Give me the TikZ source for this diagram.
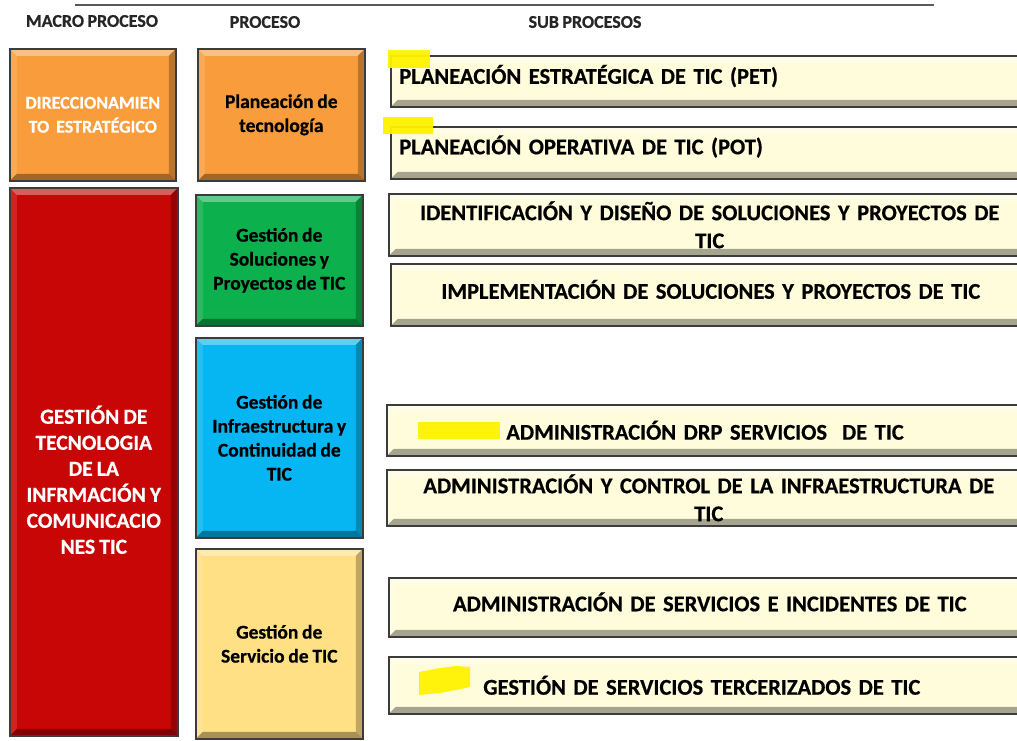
\documentclass[tikz,border=0pt]{standalone}
\usepackage{fontspec}
\setmainfont{Carlito}[WordSpace=0.85,BoldFeatures={FakeBold=0.6}]
\definecolor{orng}{HTML}{F99D3C}
\definecolor{redb}{HTML}{C80606}
\definecolor{grn}{HTML}{0CB04C}
\definecolor{blu}{HTML}{06B6F2}
\definecolor{ylw}{HTML}{FFE085}
\definecolor{crm}{HTML}{FFFCDC}
\definecolor{edge}{HTML}{3C3C3C}
\newcommand\bvw{7pt}
\tikzset{
  bev/.style={draw=edge, line width=1.6pt, inner sep=2pt,
    path picture={
      \coordinate (pNW) at (path picture bounding box.north west);
      \coordinate (pNE) at (path picture bounding box.north east);
      \coordinate (pSW) at (path picture bounding box.south west);
      \coordinate (pSE) at (path picture bounding box.south east);
      \fill[white,opacity=.35] (pNW) -- (pNE) -- ([shift={(-\bvw,-\bvw)}]pNE) -- ([shift={(\bvw,-\bvw)}]pNW) -- cycle;
      \fill[white,opacity=.12] (pNW) -- ([shift={(\bvw,-\bvw)}]pNW) -- ([shift={(\bvw,\bvw)}]pSW) -- (pSW) -- cycle;
      \fill[black,opacity=.25] (pNE) -- (pSE) -- ([shift={(-\bvw,\bvw)}]pSE) -- ([shift={(-\bvw,-\bvw)}]pNE) -- cycle;
      \fill[black,opacity=.35] (pSW) -- (pSE) -- ([shift={(-\bvw,\bvw)}]pSE) -- ([shift={(\bvw,\bvw)}]pSW) -- cycle;
    }},
  bigbox/.style={bev, anchor=north west, align=center, font=\fontsize{19.5}{24}\selectfont\bfseries},
  subbox/.style={bev, fill=crm, anchor=north west, font=\fontsize{22.5}{28}\selectfont\bfseries},
  hdr/.style={font=\fontsize{18}{20}\selectfont\bfseries, text=black!85},
  hl/.style={fill=yellow, draw=none, opacity=.95}
}
\begin{document}
\begin{tikzpicture}[x=1pt,y=-1pt]
\useasboundingbox (0,0) rectangle (1017,740);
\clip (0,0) rectangle (1017,740);
\fill[white] (0,0) rectangle (1017,740);
% top rule
\coordinate (r1) at (75,5);
\coordinate (r2) at (934,5);
\draw[line width=2.5pt, draw=black!65] (r1) -- (r2);
% headers
\node[hdr] (h1) at (92,21) {MACRO PROCESO};
\node[hdr] (h2) at (265,22) {PROCESO};
\node[hdr] (h3) at (585,22) {SUB PROCESOS};
% macro boxes
\node[bigbox, fill=orng, text=white, minimum width=166pt, minimum height=132pt, font=\fontsize{18}{24}\selectfont\bfseries] (m1) at (9,48) {DIRECCIONAMIEN\\TO\ \ ESTRATÉGICO};
\node[bigbox, fill=redb, minimum width=168pt, minimum height=548pt] (m2) at (9,187) {};
\node[align=center, text=white, font=\fontsize{21.5}{26}\selectfont\bfseries] (m2t) at ([yshift=-18pt]m2.center) {GESTIÓN DE\\TECNOLOGIA\\DE LA\\INFRMACIÓN Y\\COMUNICACIO\\NES TIC};
% process boxes
\node[bigbox, fill=orng, minimum width=167pt, minimum height=132pt] (p1) at (197,48) {Planeación de\\tecnología};
\node[bigbox, fill=grn, minimum width=167pt, minimum height=131pt] (p2) at (195,194) {Gestión de\\Soluciones y\\Proyectos de TIC};
\node[bigbox, fill=blu, minimum width=167pt, minimum height=200pt] (p3) at (195,337) {Gestión de\\Infraestructura y\\Continuidad de\\TIC};
\node[bigbox, fill=ylw, minimum width=167pt, minimum height=190pt] (p4) at (195,548) {Gestión de\\Servicio de TIC};
% sub process boxes
\node[subbox, minimum width=640pt, minimum height=51pt, align=left, text width=625pt, text depth=14pt] (s1) at (390,55) {\hspace*{1pt}PLANEACIÓN ESTRATÉGICA DE TIC (PET)};
\node[subbox, minimum width=640pt, minimum height=52pt, align=left, text width=625pt, text depth=16pt] (s2) at (390,126) {\hspace*{1pt}PLANEACIÓN OPERATIVA DE TIC (POT)};
\node[subbox, minimum width=642pt, minimum height=62pt, align=center, text width=625pt] (s3) at (388,193) {IDENTIFICACIÓN Y DISEÑO DE SOLUCIONES Y PROYECTOS DE\\TIC};
\node[subbox, minimum width=640pt, minimum height=62pt, align=center, text width=625pt, text depth=11pt] (s4) at (390,263) {IMPLEMENTACIÓN DE SOLUCIONES Y PROYECTOS DE TIC};
\node[subbox, minimum width=644pt, minimum height=51pt, align=left, text width=625pt] (s5) at (386,404) {\hspace*{110pt}ADMINISTRACIÓN DRP SERVICIOS\ \ DE TIC};
\node[subbox, minimum width=644pt, minimum height=56pt, align=center, text width=625pt] (s6) at (386,469) {ADMINISTRACIÓN Y CONTROL DE LA INFRAESTRUCTURA DE\\TIC};
\node[subbox, minimum width=642pt, minimum height=59pt, align=center, text width=625pt, text depth=11pt] (s7) at (388,577) {ADMINISTRACIÓN DE SERVICIOS E INCIDENTES DE TIC};
\node[subbox, minimum width=642pt, minimum height=57pt, align=left, text width=625pt] (s8) at (388,656) {\hspace*{86pt}GESTIÓN DE SERVICIOS TERCERIZADOS DE TIC};
% highlights
\fill[hl] (388,50) rectangle (430,68);
\fill[hl] (383,117) rectangle (433,134);
\fill[hl] (418,422) rectangle (500,439);
\fill[hl] (419,672) -- (440,668) -- (456,666) -- (470,667) -- (470,687) -- (456,690) -- (440,693) -- (419,695) -- cycle;
\end{tikzpicture}
\end{document}
